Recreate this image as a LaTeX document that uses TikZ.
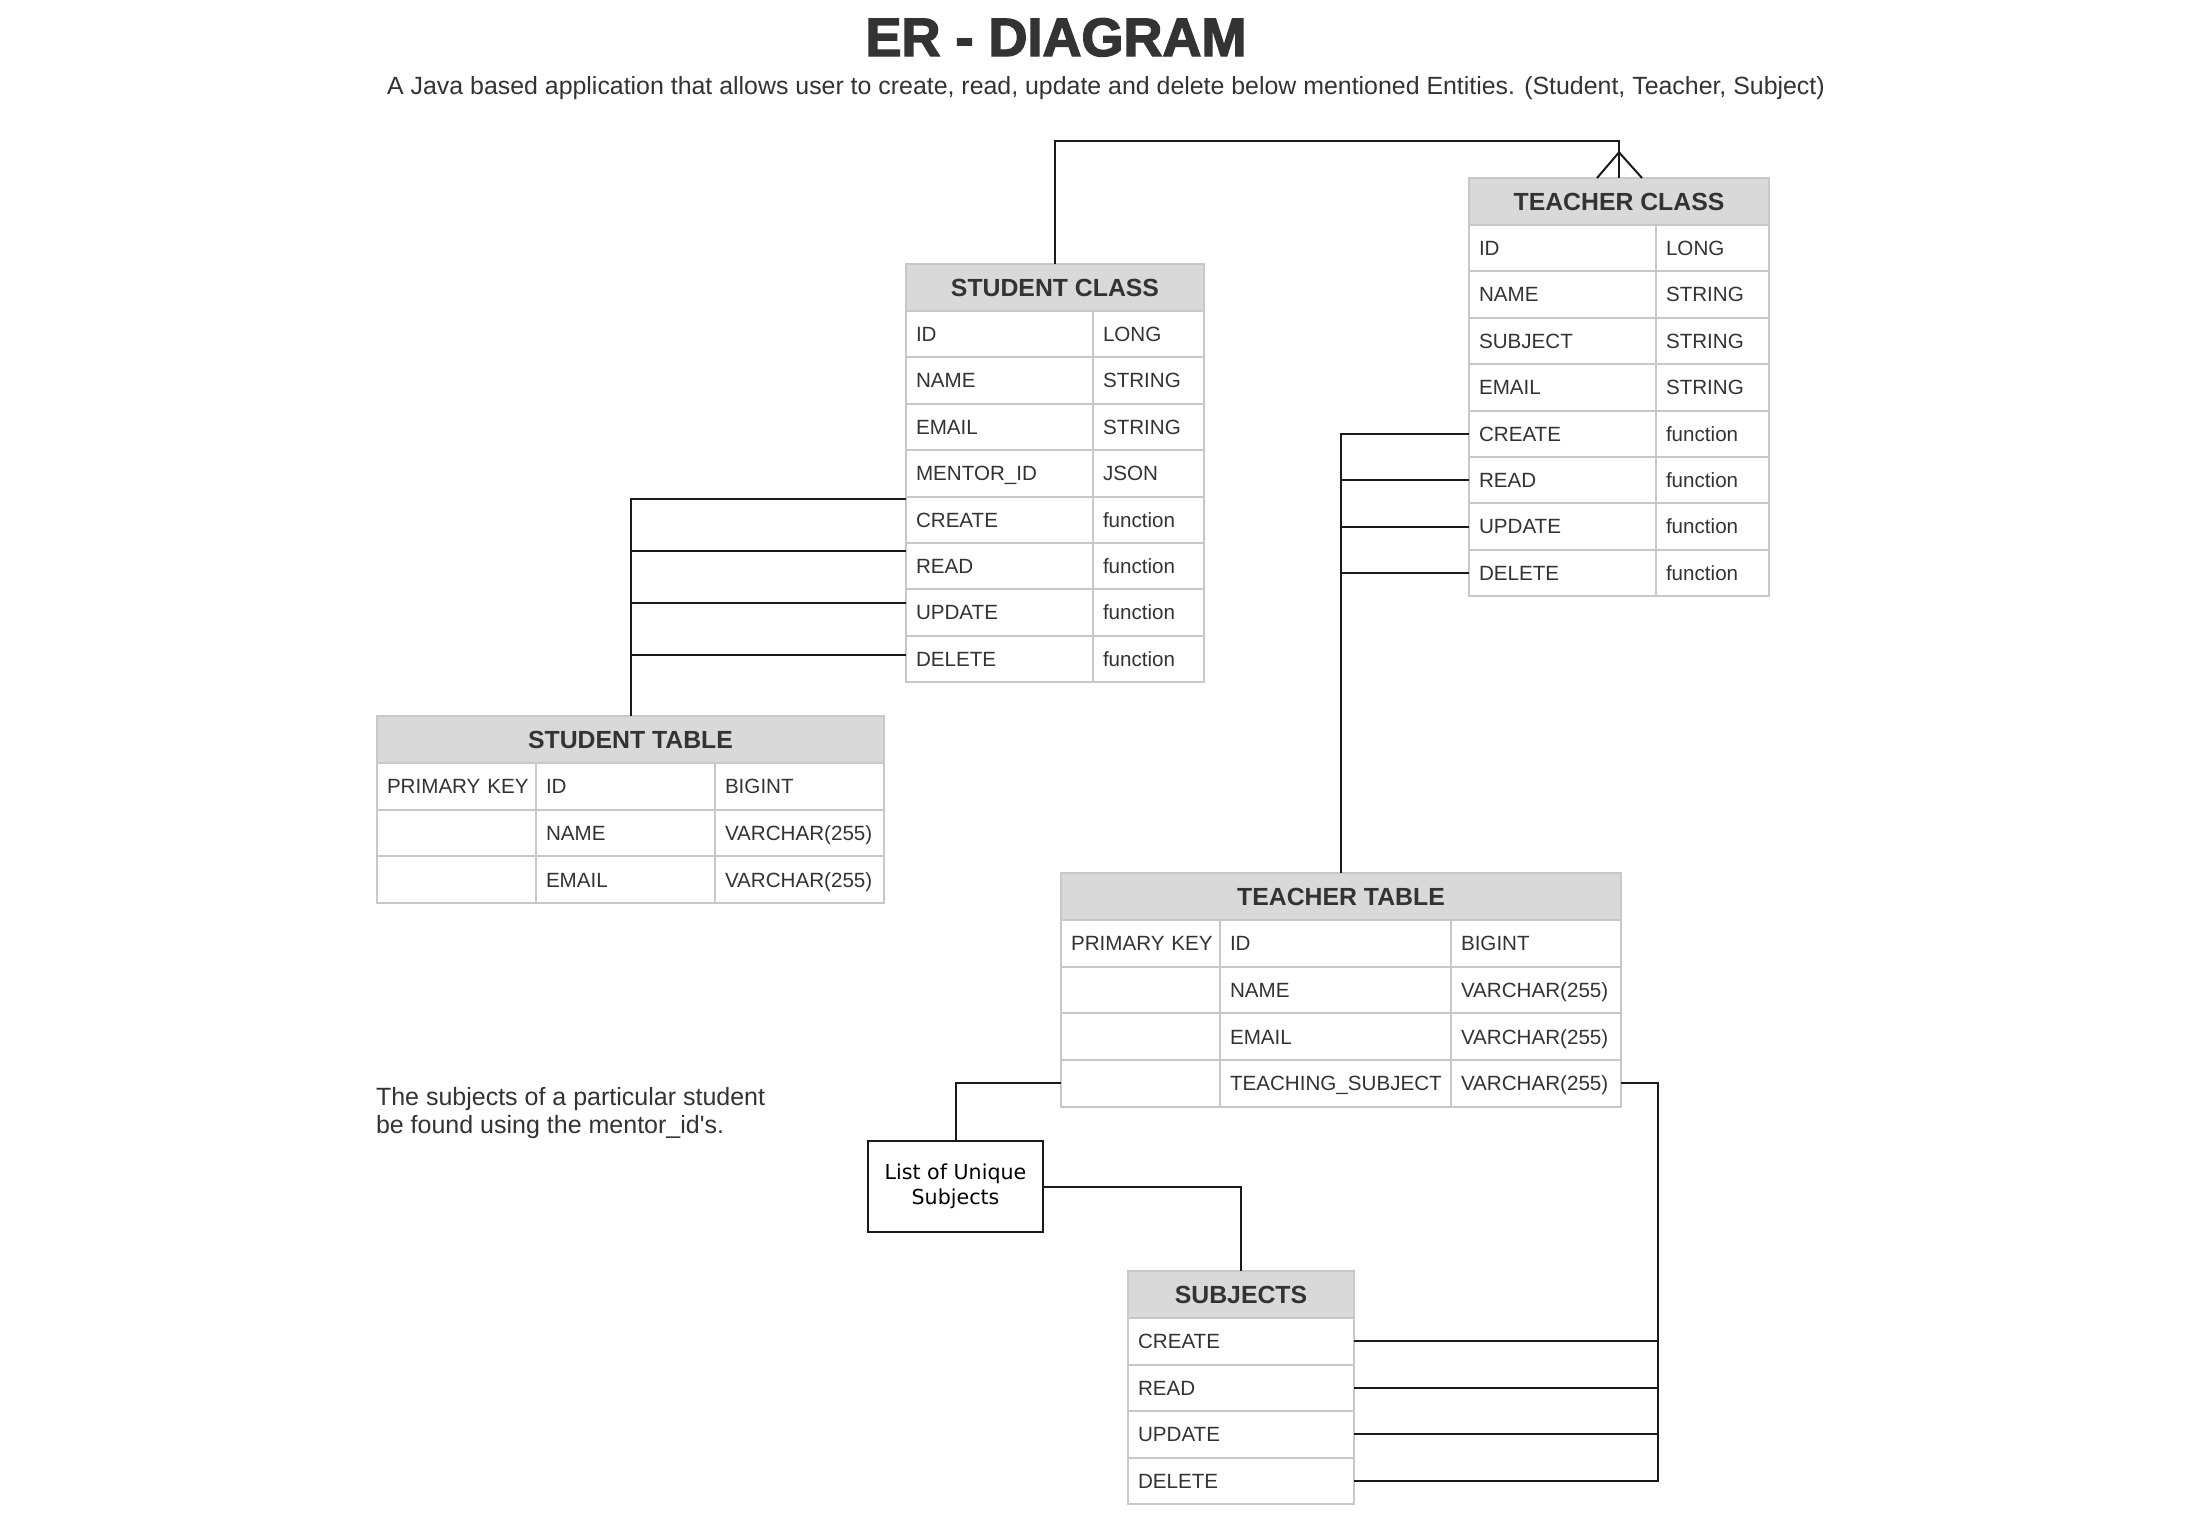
\documentclass[tikz,border=0pt]{standalone}
\usepackage{fontspec}
\setmainfont{Liberation Sans}
\newfontfamily\boxfont{DejaVu Sans}
\newfontfamily\titlefont{Liberation Sans}[BoldFeatures={FakeBold=2.6}]
\usetikzlibrary{calc}
\definecolor{txt}{HTML}{333333}
\definecolor{gridc}{HTML}{C8C8C8}
\definecolor{hdr}{HTML}{D9D9D9}
\definecolor{conn}{HTML}{1A1A1A}
\tikzset{
  cellbox/.style={draw=gridc, line width=1pt, anchor=north west, outer sep=0pt,
    inner xsep=5pt, inner ysep=0pt, align=left, text height=7.37pt, text depth=0pt,
    font=\fontsize{10.3}{12}\selectfont, text=txt},
  headbox/.style={draw=gridc, fill=hdr, line width=1pt, anchor=north west, outer sep=0pt,
    inner sep=0pt, minimum height=23.5pt, text height=8.85pt, text depth=0pt,
    font=\fontsize{12.4}{14}\selectfont\bfseries, text=txt},
  connector/.style={draw=conn, line width=1pt},
  plaintext/.style={text=txt, inner sep=0pt, outer sep=0pt}
}
\hfuzz=50pt
\newcommand{\ercell}[6]{%
  \pgfmathsetmacro\ercw{#4*0.5-10}%
  \node[cellbox, text width=\ercw pt, minimum height=#5*0.5pt] (#1) at (#2,#3) {\mbox{#6}};}
\newcommand{\erhead}[5]{%
  \pgfmathsetmacro\ercw{#4*0.5}%
  \node[headbox, minimum width=\ercw pt] (#1) at (#2,#3) {#5};}
\begin{document}
\begin{tikzpicture}[x=0.5pt,y=-0.5pt]
\useasboundingbox (0,0) rectangle (2206,1522);
\fill[white] (0,0) rectangle (2206,1522);

% Title
\node[plaintext, anchor=base, font=\titlefont\bfseries\fontsize{27}{30}\selectfont] (title) at (1056,56) {ER - DIAGRAM};
\node[plaintext, anchor=base, font=\fontsize{12.45}{14}\selectfont] (subtitle) at (1106,94)
  {A Java based application that allows user to create, read, update and delete below mentioned Entities. (Student, Teacher, Subject)};

% STUDENT CLASS
\erhead{sch}{906}{264}{298}{STUDENT CLASS}
\ercell{sc1a}{906}{311}{187}{46.4}{ID}        \ercell{sc1b}{1093}{311}{111}{46.4}{LONG}
\ercell{sc2a}{906}{357.4}{187}{46.4}{NAME}    \ercell{sc2b}{1093}{357.4}{111}{46.4}{STRING}
\ercell{sc3a}{906}{403.8}{187}{46.4}{EMAIL}   \ercell{sc3b}{1093}{403.8}{111}{46.4}{STRING}
\ercell{sc4a}{906}{450.2}{187}{46.4}{MENTOR\_ID} \ercell{sc4b}{1093}{450.2}{111}{46.4}{JSON}
\ercell{sc5a}{906}{496.6}{187}{46.4}{CREATE}  \ercell{sc5b}{1093}{496.6}{111}{46.4}{function}
\ercell{sc6a}{906}{543}{187}{46.4}{READ}      \ercell{sc6b}{1093}{543}{111}{46.4}{function}
\ercell{sc7a}{906}{589.4}{187}{46.4}{UPDATE}  \ercell{sc7b}{1093}{589.4}{111}{46.4}{function}
\ercell{sc8a}{906}{635.8}{187}{46.4}{DELETE}  \ercell{sc8b}{1093}{635.8}{111}{46.4}{function}

% TEACHER CLASS
\erhead{tch}{1469}{178}{300}{TEACHER CLASS}
\ercell{tc1a}{1469}{225}{187}{46.4}{ID}       \ercell{tc1b}{1656}{225}{113}{46.4}{LONG}
\ercell{tc2a}{1469}{271.4}{187}{46.4}{NAME}   \ercell{tc2b}{1656}{271.4}{113}{46.4}{STRING}
\ercell{tc3a}{1469}{317.8}{187}{46.4}{SUBJECT} \ercell{tc3b}{1656}{317.8}{113}{46.4}{STRING}
\ercell{tc4a}{1469}{364.2}{187}{46.4}{EMAIL}  \ercell{tc4b}{1656}{364.2}{113}{46.4}{STRING}
\ercell{tc5a}{1469}{410.6}{187}{46.4}{CREATE} \ercell{tc5b}{1656}{410.6}{113}{46.4}{function}
\ercell{tc6a}{1469}{457}{187}{46.4}{READ}     \ercell{tc6b}{1656}{457}{113}{46.4}{function}
\ercell{tc7a}{1469}{503.4}{187}{46.4}{UPDATE} \ercell{tc7b}{1656}{503.4}{113}{46.4}{function}
\ercell{tc8a}{1469}{549.8}{187}{46.4}{DELETE} \ercell{tc8b}{1656}{549.8}{113}{46.4}{function}

% STUDENT TABLE
\erhead{sth}{377}{716}{507}{STUDENT TABLE}
\ercell{st1a}{377}{763}{159}{46.7}{PRIMARY KEY} \ercell{st1b}{536}{763}{179}{46.7}{ID}    \ercell{st1c}{715}{763}{169}{46.7}{BIGINT}
\ercell{st2a}{377}{809.7}{159}{46.7}{}          \ercell{st2b}{536}{809.7}{179}{46.7}{NAME} \ercell{st2c}{715}{809.7}{169}{46.7}{VARCHAR(255)}
\ercell{st3a}{377}{856.4}{159}{46.7}{}          \ercell{st3b}{536}{856.4}{179}{46.7}{EMAIL} \ercell{st3c}{715}{856.4}{169}{46.7}{VARCHAR(255)}

% TEACHER TABLE
\erhead{tth}{1061}{873}{560}{TEACHER TABLE}
\ercell{tt1a}{1061}{920}{159}{46.7}{PRIMARY KEY} \ercell{tt1b}{1220}{920}{231}{46.7}{ID}    \ercell{tt1c}{1451}{920}{170}{46.7}{BIGINT}
\ercell{tt2a}{1061}{966.7}{159}{46.7}{}          \ercell{tt2b}{1220}{966.7}{231}{46.7}{NAME}  \ercell{tt2c}{1451}{966.7}{170}{46.7}{VARCHAR(255)}
\ercell{tt3a}{1061}{1013.4}{159}{46.7}{}         \ercell{tt3b}{1220}{1013.4}{231}{46.7}{EMAIL} \ercell{tt3c}{1451}{1013.4}{170}{46.7}{VARCHAR(255)}
\ercell{tt4a}{1061}{1060.1}{159}{46.7}{}         \ercell{tt4b}{1220}{1060.1}{231}{46.7}{TEACHING\_SUBJECT} \ercell{tt4c}{1451}{1060.1}{170}{46.7}{VARCHAR(255)}

% SUBJECTS
\erhead{sbh}{1128}{1271}{226}{SUBJECTS}
\ercell{sb1}{1128}{1318}{226}{46.5}{CREATE}
\ercell{sb2}{1128}{1364.5}{226}{46.5}{READ}
\ercell{sb3}{1128}{1411}{226}{46.5}{UPDATE}
\ercell{sb4}{1128}{1457.5}{226}{46.5}{DELETE}

% List of unique subjects
\node[draw=conn, line width=1pt, outer sep=0pt, minimum width=87.5pt, minimum height=45.5pt,
  align=center, font=\boxfont\fontsize{10.3}{12.4}\selectfont, text=black] (lus) at (955.5,1186.5)
  {List of Unique\\ Subjects};

% Note
\node[plaintext, anchor=base west, font=\fontsize{12.5}{14}\selectfont] (note1) at (376,1105) {The subjects of a particular student};
\node[plaintext, anchor=base west, font=\fontsize{12.5}{14}\selectfont] (note2) at (376,1133.3) {be found using the mentor\_id\textquotesingle s.};

% Student class -> Teacher class (one to many)
\coordinate (topbend) at (1619,141);
\coordinate (cfapex) at (1619,152.3);
\draw[connector] (sch.north) |- (topbend) -- (tch.north);
\draw[connector] ($(tch.north)+(-22,0)$) -- (cfapex) -- ($(tch.north)+(23,0)$);

% Student class functions -> Student table
\coordinate (sj1) at (906,499.3);
\coordinate (sj2) at (906,551.3);
\coordinate (sj3) at (906,603.3);
\coordinate (sj4) at (906,655.3);
\draw[connector] (sth.north) |- (sj1);
\draw[connector] (sj2 -| sth.north) -- (sj2);
\draw[connector] (sj3 -| sth.north) -- (sj3);
\draw[connector] (sj4 -| sth.north) -- (sj4);

% Teacher class functions -> Teacher table
\draw[connector] (tth.north) |- (tc5a.west);
\draw[connector] (tc6a.west -| tth.north) -- (tc6a.west);
\draw[connector] (tc7a.west -| tth.north) -- (tc7a.west);
\draw[connector] (tc8a.west -| tth.north) -- (tc8a.west);

% Teacher table -> list of unique subjects -> subjects
\draw[connector] (tt4a.west) -| (lus.north);
\draw[connector] (lus.east) -| (sbh.north);

% Teacher table -> subjects functions
\coordinate (rbus) at (1658,1083.45);
\draw[connector] (tt4c.east) -- (rbus) |- (sb4.east);
\draw[connector] (sb1.east) -- (sb1.east -| rbus);
\draw[connector] (sb2.east) -- (sb2.east -| rbus);
\draw[connector] (sb3.east) -- (sb3.east -| rbus);
\end{tikzpicture}
\end{document}
